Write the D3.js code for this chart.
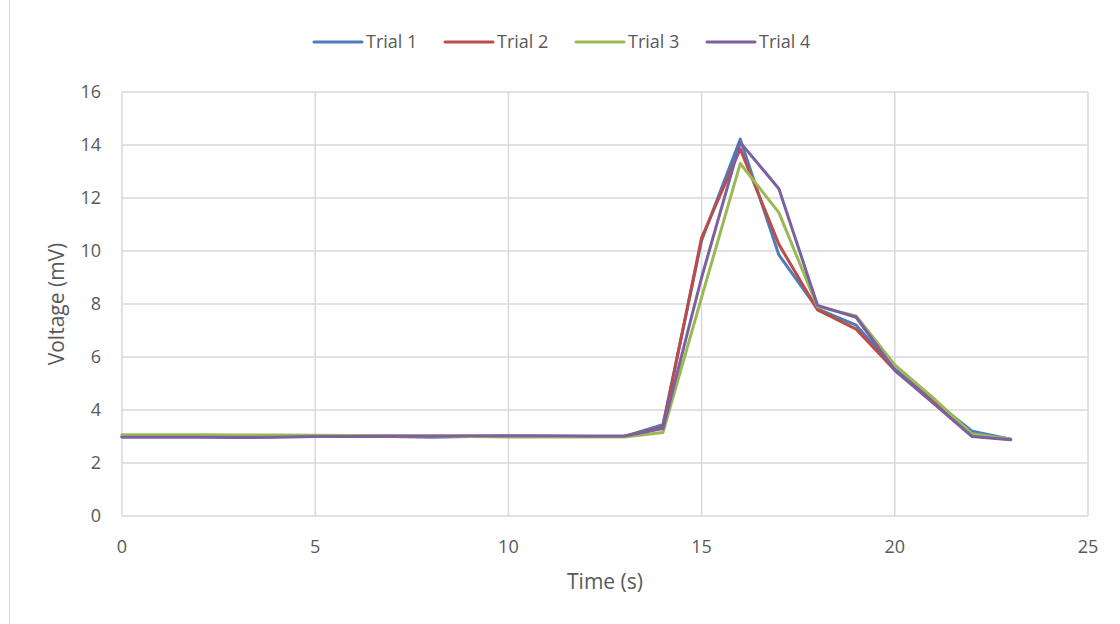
<!DOCTYPE html>
<html lang="en">
<head>
    <meta charset="utf-8" />
    <title>Voltage over time</title>
    <script src="https://d3js.org/d3.v7.min.js"></script>
    <style>
        body { margin: 0; background: #fff; }
        text { font-family: "Open Sans", Lato, sans-serif; fill: #595959; }
    </style>
</head>
<body>
    <script>
        var w = 1120;
        var h = 624;

        // time in seconds
        var times = [0, 1, 2, 3, 4, 5, 6, 7, 8, 9, 10, 11, 12, 13, 14, 15, 16, 17, 18, 19, 20, 21, 22, 23];
        var trial1 = [3.0, 3.0, 3.0, 2.98, 3.0, 3.02, 3.0, 3.0, 2.97, 3.0, 3.02, 3.0, 3.0, 3.0, 3.45, 10.4, 14.22, 9.85, 7.82, 7.2, 5.55, 4.35, 3.2, 2.9];
        var trial2 = [3.0, 3.0, 3.0, 3.0, 3.0, 3.0, 3.0, 3.0, 3.0, 3.0, 3.0, 3.0, 3.0, 3.0, 3.35, 10.5, 13.85, 10.25, 7.78, 7.05, 5.5, 4.3, 3.02, 2.9];
        var trial3 = [3.07, 3.07, 3.07, 3.06, 3.06, 3.05, 3.04, 3.03, 3.02, 3.0, 2.98, 2.98, 2.98, 2.98, 3.15, 8.25, 13.3, 11.45, 7.9, 7.55, 5.7, 4.45, 3.1, 2.9];
        var trial4 = [2.97, 2.97, 2.97, 2.96, 2.97, 3.0, 3.0, 3.02, 3.02, 3.03, 3.03, 3.03, 3.02, 3.02, 3.3, 9.0, 14.1, 12.35, 7.95, 7.5, 5.5, 4.25, 3.0, 2.88];
        var seriesNames = ["Trial 1", "Trial 2", "Trial 3", "Trial 4"];
        var colors = ["#4a7ebb", "#be4b48", "#98b954", "#7d60a0"];
        var xTicks = [0, 5, 10, 15, 20, 25];
        var yTicks = [0, 2, 4, 6, 8, 10, 12, 14, 16];

        var series = [trial1, trial2, trial3, trial4];

        var xScale = d3.scaleLinear().domain([0, 25]).range([122, 1088]);
        var yScale = d3.scaleLinear().domain([0, 16]).range([516, 92]);

        var svg = d3.select("body")
            .append("svg")
            .attr("width", w)
            .attr("height", h);

        // chart frame
        svg.append("rect")
            .attr("x", 9.5).attr("y", -2)
            .attr("width", w).attr("height", h + 4)
            .attr("fill", "none")
            .attr("stroke", "#d9d9d9");

        // gridlines
        svg.selectAll(".hgrid")
            .data(yTicks)
            .enter()
            .append("line")
            .attr("x1", xScale(0)).attr("x2", xScale(25))
            .attr("y1", function (d) { return yScale(d); })
            .attr("y2", function (d) { return yScale(d); })
            .attr("stroke", "#d9d9d9")
            .attr("stroke-width", 1.5);

        svg.selectAll(".vgrid")
            .data(xTicks)
            .enter()
            .append("line")
            .attr("y1", yScale(0)).attr("y2", yScale(16))
            .attr("x1", function (d) { return xScale(d); })
            .attr("x2", function (d) { return xScale(d); })
            .attr("stroke", "#d9d9d9")
            .attr("stroke-width", 1.5);

        // tick labels
        svg.selectAll(".ylab")
            .data(yTicks)
            .enter()
            .append("text")
            .attr("x", 101)
            .attr("y", function (d) { return yScale(d) + 6; })
            .attr("text-anchor", "end")
            .attr("font-size", "18px")
            .text(function (d) { return d; });

        svg.selectAll(".xlab")
            .data(xTicks)
            .enter()
            .append("text")
            .attr("x", function (d) { return xScale(d); })
            .attr("y", 553)
            .attr("text-anchor", "middle")
            .attr("font-size", "18px")
            .text(function (d) { return d; });

        // axis titles
        svg.append("text")
            .attr("x", xScale(12.5))
            .attr("y", 589)
            .attr("text-anchor", "middle")
            .attr("font-size", "21px")
            .text("Time (s)");

        svg.append("text")
            .attr("transform", "translate(64," + yScale(8) + ") rotate(-90)")
            .attr("text-anchor", "middle")
            .attr("font-size", "21px")
            .text("Voltage (mV)");

        // lines
        var line = d3.line()
            .x(function (d, i) { return xScale(times[i]); })
            .y(function (d) { return yScale(d); });

        svg.selectAll(".series")
            .data(series)
            .enter()
            .append("path")
            .attr("d", function (d) { return line(d); })
            .attr("fill", "none")
            .attr("stroke", function (d, i) { return colors[i]; })
            .attr("stroke-width", 3)
            .attr("stroke-linejoin", "round")
            .attr("stroke-linecap", "round");

        // legend
        var legendX = [314, 445, 576, 707];
        var lg = svg.selectAll(".legend")
            .data(seriesNames)
            .enter()
            .append("g")
            .attr("transform", function (d, i) { return "translate(" + legendX[i] + ",42)"; });

        lg.append("line")
            .attr("x1", 0).attr("x2", 48)
            .attr("stroke", function (d, i) { return colors[i]; })
            .attr("stroke-width", 3)
            .attr("stroke-linecap", "round");

        lg.append("text")
            .attr("x", 52)
            .attr("y", 6)
            .attr("font-size", "18px")
            .text(function (d) { return d; });
    </script>
</body>
</html>
